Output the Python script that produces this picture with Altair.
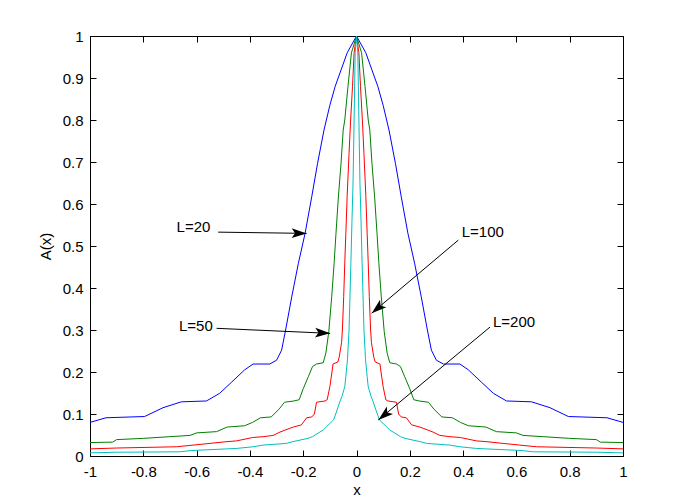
import math
import altair as alt
import pandas as pd

# ---- data: right halves (x >= 0); every curve is symmetric about x = 0 ----
x20 = [0.0, 0.035, 0.08, 0.10, 0.122, 0.146, 0.168, 0.193, 0.218, 0.243, 0.266, 0.281,
       0.30, 0.326, 0.388, 0.42, 0.47, 0.514, 0.563, 0.657, 0.726, 0.795, 0.94, 1.0]
a20 = [1.0, 0.96, 0.88, 0.835, 0.776, 0.697, 0.617, 0.530, 0.459, 0.379, 0.30, 0.252,
       0.228, 0.219, 0.219, 0.205, 0.175, 0.149, 0.131, 0.129, 0.115, 0.094, 0.091, 0.080]

x50 = [0.0, 0.019, 0.032, 0.044, 0.05, 0.058, 0.068, 0.077, 0.084, 0.093, 0.104, 0.115,
       0.125, 0.15, 0.165, 0.18, 0.20, 0.215, 0.235, 0.27, 0.29, 0.32, 0.36, 0.39, 0.42,
       0.485, 0.525, 0.60, 0.625, 0.70, 0.80, 0.90, 0.915, 1.0]
a50 = [1.0, 0.96, 0.88, 0.80, 0.776, 0.697, 0.617, 0.53, 0.459, 0.379, 0.296, 0.245,
       0.222, 0.219, 0.213, 0.19, 0.16, 0.134, 0.131, 0.128, 0.112, 0.093, 0.091, 0.08, 0.072,
       0.069, 0.058, 0.055, 0.049, 0.046, 0.042, 0.039, 0.033, 0.032]

x100 = [0.0, 0.009, 0.015, 0.022, 0.028, 0.035, 0.040, 0.044, 0.048, 0.053, 0.056, 0.065,
        0.07, 0.088, 0.092, 0.10, 0.11, 0.118, 0.15, 0.158, 0.168, 0.187, 0.207, 0.237,
        0.25, 0.287, 0.313, 0.35, 0.39, 0.45, 0.49, 0.55, 0.675, 0.9, 1.0]
a100 = [1.0, 0.96, 0.88, 0.80, 0.72, 0.62, 0.53, 0.46, 0.38, 0.30, 0.27, 0.235,
        0.224, 0.219, 0.20, 0.165, 0.134, 0.131, 0.128, 0.10, 0.093, 0.091, 0.074, 0.069,
        0.066, 0.057, 0.049, 0.046, 0.044, 0.036, 0.034, 0.030, 0.022, 0.019, 0.017]

x200 = [0.0, 0.005, 0.009, 0.013, 0.017, 0.021, 0.028, 0.034, 0.04, 0.044, 0.055, 0.062,
        0.078, 0.086, 0.112, 0.125, 0.165, 0.182, 0.24, 0.263, 0.35, 0.388, 0.45, 0.62,
        0.664, 0.9, 1.0]
a200 = [1.0, 0.96, 0.80, 0.65, 0.56, 0.46, 0.30, 0.229, 0.189, 0.165, 0.141, 0.13,
        0.10, 0.086, 0.07, 0.062, 0.046, 0.042, 0.034, 0.030, 0.026, 0.022, 0.018, 0.013,
        0.010, 0.009, 0.0075]

names = ["L=20", "L=50", "L=100", "L=200"]
colors = ["#0000ff", "#008000", "#ff0000", "#00bfbf"]

# annotations (data coordinates)
label_x = [-0.675, -0.666, 0.395, 0.512]
label_y = [0.545, 0.309, 0.533, 0.319]
arrow_x0 = [-0.519, -0.525, 0.382, 0.501]
arrow_y0 = [0.533, 0.304, 0.514, 0.307]
arrow_x1 = [-0.187, -0.099, 0.057, 0.082]
arrow_y1 = [0.530, 0.292, 0.340, 0.086]

x_ticks = [-1, -0.8, -0.6, -0.4, -0.2, 0, 0.2, 0.4, 0.6, 0.8, 1]
y_ticks = [0, 0.1, 0.2, 0.3, 0.4, 0.5, 0.6, 0.7, 0.8, 0.9, 1]

W, H = 533, 420
FONT = "Liberation Sans"

rows = []
for name, xs, ys in zip(names, [x20, x50, x100, x200], [a20, a50, a100, a200]):
    fx = [-v for v in reversed(xs[1:])] + xs
    fy = list(reversed(ys[1:])) + ys
    for xv, yv in zip(fx, fy):
        rows.append({"x": xv, "A": yv, "L": name})
df = pd.DataFrame(rows)

ann = pd.DataFrame({
    "label": names, "lx": label_x, "ly": label_y,
    "x0": arrow_x0, "y0": arrow_y0, "x1": arrow_x1, "y1": arrow_y1,
})
ang = []
for a, b, c, d in zip(arrow_x0, arrow_y0, arrow_x1, arrow_y1):
    dx = (c - a) * W / 2.0
    dy = -(d - b) * H
    ang.append(math.degrees(math.atan2(dx, -dy)) % 360)
ann["angle"] = ang

xs_scale = alt.Scale(domain=[-1, 1], nice=False, zero=False)
ys_scale = alt.Scale(domain=[0, 1], nice=False, zero=False)

common_axis = dict(domain=False, grid=False, tickSize=6, offset=-6, tickColor="black",
                   tickWidth=1, labelFont=FONT, labelFontSize=15, labelColor="black",
                   labelFlush=False, labelOverlap=False, titleFont=FONT, titleFontSize=15,
                   titleFontWeight="normal", titleColor="black")

x_bottom = alt.Axis(values=x_ticks, labelExpr="'' + datum.value", title="x",
                    labelPadding=8, titlePadding=3, **common_axis)
y_left = alt.Axis(values=y_ticks, labelExpr="'' + datum.value", title="A(x)",
                  labelPadding=7, titlePadding=9, **common_axis)
x_top = alt.Axis(values=x_ticks, orient="top", labels=False, title=None, **common_axis)
y_right = alt.Axis(values=y_ticks, orient="right", labels=False, title=None, **common_axis)

layers = []
# axis carrier layers
layers.append(
    alt.Chart(df).mark_point(opacity=0).encode(
        x=alt.X("x:Q", scale=xs_scale, axis=x_bottom),
        y=alt.Y("A:Q", scale=ys_scale, axis=y_left),
    )
)
layers.append(
    alt.Chart(df).mark_point(opacity=0).encode(
        x=alt.X("x:Q", scale=xs_scale, axis=x_top),
        y=alt.Y("A:Q", scale=ys_scale, axis=y_right),
    )
)
for name, col in zip(names, colors):
    layers.append(
        alt.Chart(df[df["L"] == name]).mark_line(color=col, strokeWidth=1).encode(
            x=alt.X("x:Q", scale=xs_scale, axis=None),
            y=alt.Y("A:Q", scale=ys_scale, axis=None),
            order="x:Q",
        )
    )

arrows = alt.Chart(ann).mark_rule(color="black", strokeWidth=1).encode(
    x=alt.X("x0:Q", scale=xs_scale, axis=None),
    y=alt.Y("y0:Q", scale=ys_scale, axis=None),
    x2="x1:Q", y2="y1:Q",
)
heads = alt.Chart(ann).mark_point(
    filled=True, color="black", opacity=1, size=225,
    shape="M0,0L-0.65,2L0,1.55L0.65,2Z", strokeWidth=0,
).encode(
    x=alt.X("x1:Q", scale=xs_scale, axis=None),
    y=alt.Y("y1:Q", scale=ys_scale, axis=None),
    angle=alt.Angle("angle:Q", scale=None),
)
texts = alt.Chart(ann).mark_text(
    align="left", baseline="middle", font=FONT, fontSize=15, color="black",
).encode(
    x=alt.X("lx:Q", scale=xs_scale, axis=None),
    y=alt.Y("ly:Q", scale=ys_scale, axis=None),
    text="label:N",
)
layers += [arrows, heads, texts]

chart = alt.layer(*layers).resolve_axis(x="independent", y="independent").properties(
    width=W, height=H,
    autosize=alt.AutoSizeParams(type="none"),
    padding={"left": 82, "top": 28, "right": 50, "bottom": 40},
    background="white",
).configure_view(stroke="black", strokeWidth=1)

chart.save("out.html", embed_options={"renderer": "svg", "actions": False})
